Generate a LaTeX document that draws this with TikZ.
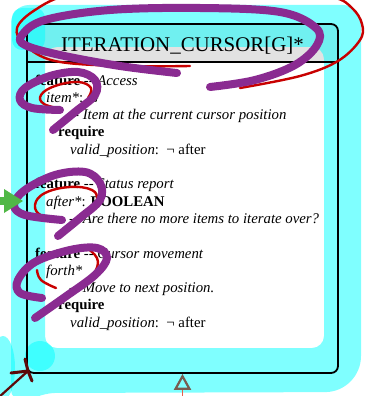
\documentclass[tikz,border=0pt]{standalone}
\usepackage{fontspec}
\setmainfont{Liberation Serif}
\usetikzlibrary{arrows.meta}
\definecolor{hdrgray}{RGB}{226,226,226}
\definecolor{hlcyan}{RGB}{0,255,255}
\definecolor{penred}{RGB}{200,0,0}
\definecolor{penpurple}{RGB}{138,43,145}
\definecolor{pengreen}{RGB}{80,184,70}
\definecolor{penbrown}{RGB}{92,10,10}
\definecolor{inhbrown}{RGB}{120,92,80}
\definecolor{inhred}{RGB}{230,95,75}
\begin{document}
\begin{tikzpicture}[x=1pt,y=-1pt,
  txt/.style={anchor=base west, inner sep=0pt, font=\fontsize{14.8}{17}\selectfont},
  titletxt/.style={anchor=base, inner sep=0pt, font=\fontsize{20.9}{24}\selectfont},
  classbox/.style={draw=black, line width=1.8pt, rounded corners=7pt, minimum width=311pt, minimum height=349pt, inner sep=0pt},
  hl/.style={fill=hlcyan, fill opacity=0.5},
  redpen/.style={draw=penred, line width=2.4pt, line cap=round, line join=round},
  purplepen/.style={draw=penpurple, line width=8pt, line cap=round, line join=round},
  inhline/.style={draw=inhred, line width=1.5pt}
]
\useasboundingbox (0,0) rectangle (365,396);
\clip (0,0) rectangle (365,396);
\fill[white] (0,0) rectangle (365,396);

% header background
\begin{scope}
  \clip (0,24) rectangle (365,62);
  \fill[hdrgray, rounded corners=7pt] (27,24) rectangle (338,373);
\end{scope}

% cyan highlighter
\fill[hl, even odd rule]
  [rounded corners=18pt] (11,400) -- (11,5) -- (361,5) [rounded corners=36pt] -- (361,392) [rounded corners=10pt] -- (45,393) -- (30,400) -- cycle
  [rounded corners=12pt] (45,47) -- (324,47) -- (324,348) -- (45,348) -- cycle;
\fill[hl, rounded corners=10pt] (12,8) rectangle (45,50);
\fill[hl] (40,356) circle (15pt);
\fill[hl] (3,368) ellipse (12pt and 32pt);

% class box
\node[classbox] (box) at (182.5,198.5) {};
\coordinate (hl) at (27,62);
\coordinate (hr) at (338,62);
\draw[line width=1.6pt] (hl) -- (hr);

% texts
\node[titletxt] (title) at (182.5,52) {ITERATION\_CURSOR[G]*};
\node[txt] (f1) at (35,85) {\textbf{feature} -{}- \textit{Access}};
\node[txt] (m1) at (46,102.3) {\textit{item*}: \textit{G}};
\node[txt] (c1) at (69,119.6) {-{}- \textit{Item at the current cursor position}};
\node[txt] (r1) at (58,136.9) {\textbf{require}};
\node[txt] (a1) at (70,154.2) {\textit{valid\_position}:~~¬ after};
\node[txt] (f2) at (35,188.8) {\textbf{feature} -{}- \textit{Status report}};
\node[txt] (m2) at (46,206.1) {\textit{after*}: \textbf{BOOLEAN}};
\node[txt] (c2) at (69,223.4) {-{}- \textit{Are there no more items to iterate over?}};
\node[txt] (f3) at (35,258) {\textbf{feature} -{}- \textit{Cursor movement}};
\node[txt] (m3) at (46,275.3) {\textit{forth*}};
\node[txt] (c3) at (69,292.6) {-{}- \textit{Move to next position.}};
\node[txt] (r3) at (58,309.9) {\textbf{require}};
\node[txt] (a3) at (70,327.2) {\textit{valid\_position}:~~¬ after};

% inheritance arrow at bottom
\coordinate (inh) at (182.5,402);
\draw[inhline, -{Triangle[open, length=16pt, width=17pt, line width=2.2pt, color=inhbrown]}] (inh) -- (box.south);

% red pen
\draw[redpen] plot[smooth, tension=0.6] coordinates {(240,88) (300,76) (338,61) (360,40) (362,24) (352,8) (330,-4) (250,-22) (150,-22) (70,-6) (35,10) (17,28) (25,45) (55,61) (120,66) (190,66)};
\draw[redpen] plot[smooth, tension=0.7] coordinates {(62,109) (44,104) (41,95) (55,86) (78,82) (91,88) (88,98)};
\draw[redpen] plot[smooth, tension=0.7] coordinates {(63,220) (42,216) (35,205) (45,193) (70,187) (92,190) (97,200) (92,210)};
\draw[redpen] plot[smooth, tension=0.7] coordinates {(56,288) (41,280) (37,270)};
\draw[redpen] plot[smooth, tension=0.7] coordinates {(87,248) (97,258) (96,270) (88,279)};

% purple pen
\draw[purplepen] plot[smooth, tension=0.6] coordinates {(177,73) (120,66) (60,55) (25,45) (22,35) (45,20) (110,10) (200,8) (280,12) (316,28) (317,45) (295,65) (255,80) (210,87)};
\draw[purplepen] plot[smooth, tension=0.6] coordinates {(53,130) (75,112) (95,95) (95,80) (78,72) (50,76) (25,88) (20,100) (32,108) (60,110)};
\draw[purplepen] plot[smooth, tension=0.6] coordinates {(58,236) (80,218) (100,200) (100,183) (85,172) (55,175) (25,190) (14,205) (25,215) (62,220)};
\draw[purplepen] plot[smooth, tension=0.6] coordinates {(35,318) (65,297) (95,275) (107,258) (97,248) (70,250) (35,262) (18,280) (20,293) (42,298)};

% green arrow at left
\fill[pengreen] (0,197) rectangle (6,205);
\fill[pengreen] (4,189) -- (23,201) -- (4,213) -- cycle;

% brown arrow at bottom left
\coordinate (bstart) at (-2,398);
\coordinate (btip) at (28,371);
\draw[penbrown, line width=2.2pt, line cap=round] (bstart) -- (btip);
\draw[penbrown, line width=3pt, line cap=round, line join=round] (11,373) -- (btip) -- (25,359);
\draw[penbrown, line width=3pt, line cap=round] (btip) -- (32,381);
\end{tikzpicture}
\end{document}
